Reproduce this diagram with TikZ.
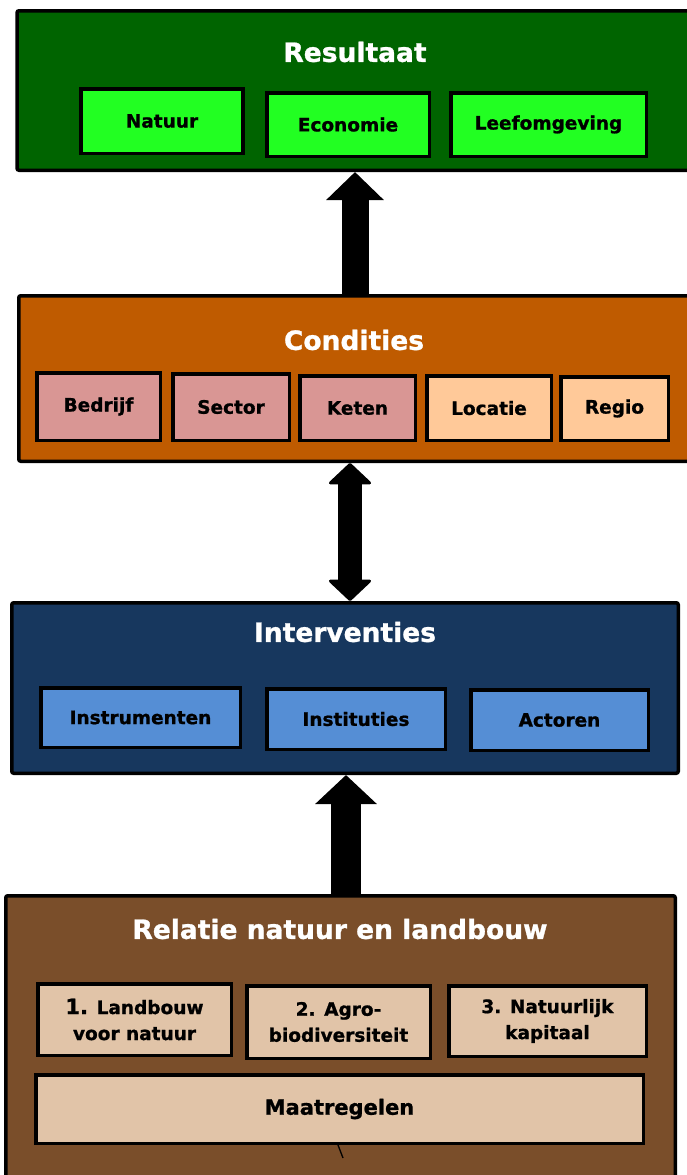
\documentclass[tikz,border=0pt]{standalone}
\usepackage{fontspec}
\setmainfont{DejaVu Sans}[BoldFeatures={FakeBold=1}]
\usetikzlibrary{arrows.meta}
\definecolor{resgreen}{RGB}{0,100,0}
\definecolor{litegreen}{RGB}{34,255,34}
\definecolor{condorange}{RGB}{191,91,0}
\definecolor{condpink}{RGB}{217,150,148}
\definecolor{condpeach}{RGB}{255,201,153}
\definecolor{intnavy}{RGB}{23,55,94}
\definecolor{intblue}{RGB}{85,142,213}
\definecolor{relbrown}{RGB}{122,78,42}
\definecolor{reltan}{RGB}{225,196,168}
\tikzset{
  outerbox/.style={draw=black, line width=3.5pt, rounded corners=2pt, inner sep=0pt, rectangle},
  innerbox/.style={draw=black, line width=3.5pt, inner sep=0pt, rectangle, align=center,
     font=\fontsize{18.5}{26}\selectfont\bfseries, text=black},
  titletext/.style={font=\fontsize{26.5}{30}\selectfont\bfseries, text=white, inner sep=0pt},
  blockarrow/.style={line width=#1, draw=black},
}
\begin{document}
\begin{tikzpicture}[x=1pt,y=-1pt]
\useasboundingbox (0,0) rectangle (687,1175);
\clip (0,0) rectangle (687,1175);
\fill[white] (0,0) rectangle (687,1175);

% Resultaat
\node[outerbox, fill=resgreen, minimum width=686pt, minimum height=159.5pt] (res) at (360,90.5) {};
\node[titletext] (restitle) at (355,52) {Resultaat};
\node[innerbox, fill=litegreen, minimum width=162pt, minimum height=64.5pt] (natuur) at (162,121) {Natuur};
\node[innerbox, fill=litegreen, minimum width=162.5pt, minimum height=63.5pt] (econ) at (348,124.5) {Economie};
\node[innerbox, fill=litegreen, minimum width=195.5pt, minimum height=63.5pt] (leef) at (548.5,124.5) {Leefomgeving};

% Condities
\node[outerbox, fill=condorange, minimum width=684.5pt, minimum height=165.5pt] (cond) at (361,378.5) {};
\node[titletext] (condtitle) at (354,340) {Condities};
\node[innerbox, fill=condpink, minimum width=123.5pt, minimum height=67.5pt] (bedrijf) at (98.5,406.5) {Bedrijf};
\node[innerbox, fill=condpink, minimum width=116.5pt, minimum height=66.5pt] (sector) at (231,407) {Sector};
\node[innerbox, fill=condpink, minimum width=115.5pt, minimum height=64.5pt] (keten) at (357.5,408) {Keten};
\node[innerbox, fill=condpeach, minimum width=124.5pt, minimum height=64.5pt] (locatie) at (489,408) {Locatie};
\node[innerbox, fill=condpeach, minimum width=107.5pt, minimum height=63.5pt] (regio) at (614.5,408.5) {Regio};

% Interventies
\node[outerbox, fill=intnavy, minimum width=666.5pt, minimum height=170.5pt] (intv) at (345,688) {};
\node[titletext] (intvtitle) at (345,632) {Interventies};
\node[innerbox, fill=intblue, minimum width=199.5pt, minimum height=59.5pt] (instr) at (140.5,717.5) {Instrumenten};
\node[innerbox, fill=intblue, minimum width=178.5pt, minimum height=60.5pt] (inst) at (356,719) {Instituties};
\node[innerbox, fill=intblue, minimum width=177.5pt, minimum height=60.5pt] (actor) at (559.5,720) {Actoren};

% Relatie natuur en landbouw
\node[outerbox, fill=relbrown, minimum width=669.5pt, minimum height=302.5pt] (rel) at (340.5,1047) {};
\node[titletext] (reltitle) at (340,929) {Relatie natuur en landbouw};
\node[innerbox, fill=reltan, minimum width=193.5pt, minimum height=71.5pt] (lvn) at (134.5,1019.5) {{\fontsize{21}{26}\selectfont 1.} Landbouw\\voor natuur};
\node[innerbox, fill=reltan, minimum width=183.5pt, minimum height=72.5pt] (agro) at (338.5,1022) {2. Agro-\\biodiversiteit};
\node[innerbox, fill=reltan, minimum width=197.5pt, minimum height=70.5pt] (kap) at (547.5,1021) {3. Natuurlijk\\kapitaal};
\node[innerbox, fill=reltan, minimum width=607.5pt, minimum height=68.5pt, font=\fontsize{21}{26}\selectfont\bfseries] (maat) at (339.5,1109) {Maatregelen};
\draw[line width=1.3pt] (338,1145) -- (343,1158);

% Arrows
\draw[blockarrow=27pt, -{Triangle[length=28pt,width=56pt]}] (355,0 |- cond.north) -- (355,0 |- res.south);
\draw[blockarrow=24pt, {Triangle[length=22pt,width=46pt,round,line width=3pt]}-{Triangle[length=22pt,width=46pt,round,line width=3pt]}] (350,0 |- cond.south) -- (350,0 |- intv.north);
\draw[blockarrow=30pt, -{Triangle[length=29pt,width=60pt]}] (346,0 |- rel.north) -- (346,0 |- intv.south);
\end{tikzpicture}
\end{document}
